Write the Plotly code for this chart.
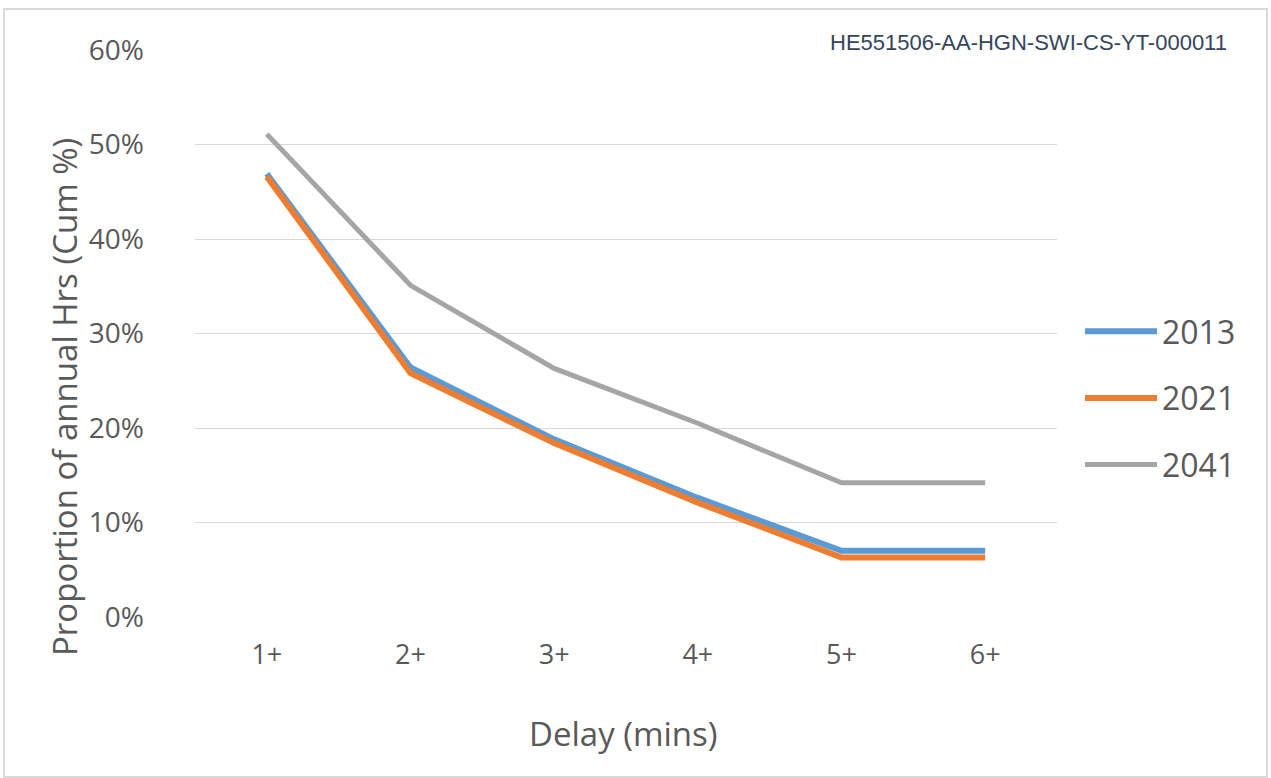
import plotly.graph_objects as go

categories = ["1+", "2+", "3+", "4+", "5+", "6+"]
y2013 = [0.469, 0.264, 0.188, 0.126, 0.070, 0.070]
y2021 = [0.466, 0.258, 0.184, 0.121, 0.063, 0.063]
y2041 = [0.511, 0.351, 0.263, 0.205, 0.142, 0.142]
series_names = ["2013", "2021", "2041"]
series_values = [y2013, y2021, y2041]
series_colors = ["#5B9BD5", "#ED7D31", "#A5A5A5"]
series_widths = [6, 6, 5]
ytick_vals = [0, 0.1, 0.2, 0.3, 0.4, 0.5, 0.6]
ytick_text = ["0%", "10%", "20%", "30%", "40%", "50%", "60%"]

W, H = 1271, 778
L, R, T, B = 195, 214, 50, 161
pw, ph = W - L - R, H - T - B

def px(x):
    return (x - L) / pw

def py(y):
    return (H - B - y) / ph

FONT = "'Open Sans', Lato, sans-serif"
GREY = "#595959"

fig = go.Figure()
for name, vals, col, w in zip(series_names, series_values, series_colors, series_widths):
    fig.add_trace(go.Scatter(
        x=categories, y=vals, mode="lines", name=name, legendgroup=name,
        line=dict(color=col, width=w),
    ))

fig.update_layout(
    width=W, height=H,
    margin=dict(l=L, r=R, t=T, b=B, autoexpand=False),
    paper_bgcolor="white", plot_bgcolor="white",
    font=dict(family=FONT, color=GREY),
    showlegend=True,
    legend=dict(
        x=px(1080), xanchor="left", y=py(398), yanchor="middle",
        font=dict(size=32, color=GREY, family=FONT),
        traceorder="grouped", tracegroupgap=22, itemwidth=72,
        bgcolor="rgba(0,0,0,0)",
    ),
    xaxis=dict(
        type="category", range=[-0.5, 5.5], showgrid=False, zeroline=False,
        showline=False, ticks="", tickfont=dict(size=27, color=GREY),
        ticklabelstandoff=19,
    ),
    yaxis=dict(
        range=[0, 0.6], tickvals=ytick_vals, ticktext=ytick_text,
        showgrid=True, gridcolor="#D9D9D9", gridwidth=1, zeroline=False,
        showline=False, ticks="", tickfont=dict(size=28, color=GREY),
        ticklabelstandoff=50,
    ),
    shapes=[dict(
        type="rect", xref="paper", yref="paper",
        x0=px(4), x1=px(1267), y0=py(777), y1=py(9),
        line=dict(color="#D9D9D9", width=2), fillcolor="rgba(0,0,0,0)", layer="below",
    )],
    annotations=[
        dict(text="Proportion of annual Hrs (Cum %)", xref="paper", yref="paper",
             x=px(64), y=py(397), textangle=-90, showarrow=False,
             xanchor="center", yanchor="middle", font=dict(size=33, color=GREY, family=FONT)),
        dict(text="Delay (mins)", xref="paper", yref="paper",
             x=px(623), y=py(733), showarrow=False,
             xanchor="center", yanchor="middle", font=dict(size=33, color=GREY, family=FONT)),
        dict(text="HE551506-AA-HGN-SWI-CS-YT-000011", xref="paper", yref="paper",
             x=px(1229), y=py(42), showarrow=False,
             xanchor="right", yanchor="middle",
             font=dict(size=22, color="#34455A", family="Liberation Sans, Arial, sans-serif")),
    ],
)

fig.write_html("out.html", config={"displayModeBar": False},
               post_script="document.body.style.margin='0';")
